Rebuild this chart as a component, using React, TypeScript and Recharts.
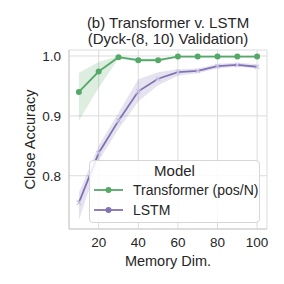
import React from 'react';
import { ComposedChart, Line, Area, XAxis, YAxis, CartesianGrid, Legend } from 'recharts';

const memoryDims = [10, 20, 30, 40, 50, 60, 70, 80, 90, 100];
const transformerAcc = [0.94, 0.974, 0.998, 0.993, 0.993, 0.999, 0.999, 0.999, 0.999, 0.999];
const transformerLo = [0.892, 0.947, 0.996, 0.99, 0.99, 0.998, 0.998, 0.998, 0.998, 0.998];
const transformerHi = [0.972, 0.99, 1.0, 0.996, 0.996, 1.0, 1.0, 1.0, 1.0, 1.0];
const lstmAcc = [0.755, 0.838, 0.892, 0.941, 0.962, 0.973, 0.975, 0.983, 0.985, 0.982];
const lstmLo = [0.726, 0.825, 0.878, 0.924, 0.951, 0.967, 0.971, 0.979, 0.982, 0.979];
const lstmHi = [0.772, 0.85, 0.905, 0.961, 0.973, 0.978, 0.979, 0.987, 0.989, 0.986];
const xTicks = [20, 40, 60, 80, 100];
const yTicks = [0.8, 0.9, 1.0];
const seriesNames = ['Transformer (pos/N)', 'LSTM'];

const GREEN = '#55a868';
const PURPLE = '#8172b3';
const FONT = '"Liberation Sans", Arial, sans-serif';
const TEXT = '#262626';
const SPINE = '#cccccc';

const data = memoryDims.map((x, i) => ({
  x,
  t: transformerAcc[i],
  tBand: [transformerLo[i], transformerHi[i]],
  l: lstmAcc[i],
  lBand: [lstmLo[i], lstmHi[i]],
}));

const XDot = (props: any) => {
  const { cx, cy } = props;
  if (cx == null || cy == null) return null;
  const s = 2.2;
  return (
    <path
      d={`M${cx - s},${cy - s}L${cx + s},${cy + s}M${cx - s},${cy + s}L${cx + s},${cy - s}`}
      stroke="#c9c2e6"
      strokeWidth={1.1}
      fill="none"
    />
  );
};

const LegendBox = () => (
  <div
    style={{
      position: 'relative',
      width: 171,
      height: 63,
      boxSizing: 'border-box',
      border: '1px solid #d6d6d6',
      borderRadius: 4,
      background: 'rgba(255,255,255,0.85)',
      fontFamily: FONT,
      color: TEXT,
    }}
  >
    <div style={{ position: 'absolute', left: 0, right: 0, top: 1, textAlign: 'center', fontSize: 15, lineHeight: '18px' }}>
      Model
    </div>
    {seriesNames.map((name, i) => (
      <div key={name} style={{ position: 'absolute', left: 0, top: 20 + i * 20, height: 18, width: '100%' }}>
        <svg width={36} height={18} style={{ position: 'absolute', left: 1, top: 0 }}>
          <line x1={3} y1={9} x2={32} y2={9} stroke={i === 0 ? GREEN : PURPLE} strokeWidth={1.8} />
          <circle cx={17.5} cy={9} r={3} fill={i === 0 ? GREEN : PURPLE} />
        </svg>
        <span style={{ position: 'absolute', left: 43, top: 0, fontSize: 14, lineHeight: '18px', whiteSpace: 'nowrap' }}>
          {name}
        </span>
      </div>
    ))}
  </div>
);

export default function App() {
  return (
    <div style={{ position: 'absolute', left: 0, top: 0, width: 284, height: 284, background: '#fff' }}>
      <div
        style={{
          position: 'absolute',
          left: 58,
          width: 220,
          top: 15,
          textAlign: 'center',
          fontFamily: FONT,
          fontSize: 15,
          lineHeight: '16px',
          color: TEXT,
          whiteSpace: 'nowrap',
        }}
      >
        <div>(b) Transformer v. LSTM</div>
        <div>(Dyck-(8, 10) Validation)</div>
      </div>
      <ComposedChart
        width={284}
        height={284}
        data={data}
        margin={{ top: 50, right: 17, bottom: 15, left: 29 }}
      >
        <CartesianGrid stroke="#dcdcdc" strokeWidth={1} />
        <XAxis
          dataKey="x"
          type="number"
          domain={[5, 105]}
          ticks={xTicks}
          height={40}
          axisLine={{ stroke: SPINE }}
          tickLine={false}
          tick={{ fill: TEXT, fontSize: 13.5, fontFamily: FONT }}
          label={{ value: 'Memory Dim.', position: 'insideBottom', offset: 3, fill: TEXT, fontSize: 14.5, fontFamily: FONT }}
        />
        <XAxis
          xAxisId="top"
          orientation="top"
          dataKey="x"
          type="number"
          domain={[5, 105]}
          height={0}
          axisLine={{ stroke: SPINE }}
          tickLine={false}
          tick={false}
        />
        <YAxis
          type="number"
          domain={[0.711, 1.01]}
          ticks={yTicks}
          width={40}
          allowDataOverflow
          axisLine={{ stroke: SPINE }}
          tickLine={false}
          tickFormatter={(v: number) => v.toFixed(1)}
          tick={{ fill: TEXT, fontSize: 13.5, fontFamily: FONT }}
          label={{ value: 'Close Accuracy', angle: -90, position: 'center', dx: -19, fill: TEXT, fontSize: 14.5, fontFamily: FONT }}
        />
        <YAxis
          yAxisId="right"
          orientation="right"
          type="number"
          domain={[0.711, 1.01]}
          width={0}
          axisLine={{ stroke: SPINE }}
          tickLine={false}
          tick={false}
        />
        <Area
          dataKey="tBand"
          type="linear"
          stroke="none"
          fill={GREEN}
          fillOpacity={0.2}
          isAnimationActive={false}
          legendType="none"
        />
        <Area
          dataKey="lBand"
          type="linear"
          stroke="none"
          fill={PURPLE}
          fillOpacity={0.2}
          isAnimationActive={false}
          legendType="none"
        />
        <Line
          dataKey="t"
          type="linear"
          stroke={GREEN}
          strokeWidth={1.8}
          dot={{ r: 3, fill: GREEN, stroke: GREEN, strokeWidth: 0 }}
          isAnimationActive={false}
        />
        <Line
          dataKey="l"
          type="linear"
          stroke={PURPLE}
          strokeWidth={1.8}
          dot={<XDot />}
          isAnimationActive={false}
        />
        <Legend
          layout="horizontal"
          verticalAlign="middle"
          align="center"
          content={<LegendBox />}
          wrapperStyle={{ position: 'absolute', left: 89, top: 160, width: 171, height: 63 }}
        />
      </ComposedChart>
    </div>
  );
}
